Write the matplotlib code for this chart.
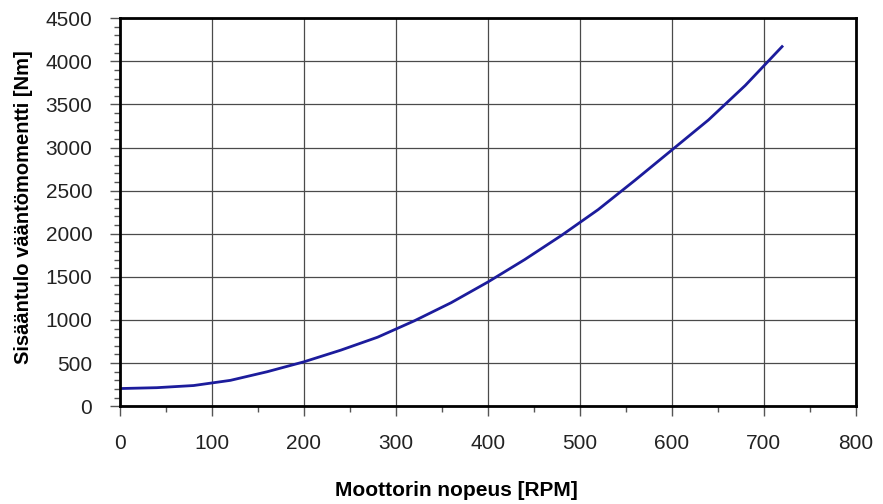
import matplotlib.pyplot as plt
from matplotlib.ticker import MultipleLocator

rpm = [0, 40, 80, 120, 160, 200, 240, 280, 320, 360, 400, 440, 480, 520, 560, 600, 640, 680, 720]
torque = [205, 215, 240, 300, 400, 515, 650, 800, 990, 1200, 1440, 1700, 1980, 2280, 2620, 2970, 3320, 3720, 4170]

plt.rcParams['font.family'] = ['Liberation Sans', 'DejaVu Sans']

fig = plt.figure(figsize=(8.83, 5.04), dpi=100)
ax = fig.add_axes([0.136, 0.194, 0.833, 0.770])

ax.plot(rpm, torque, color='#1c1c9c', linewidth=2.0)

ax.set_xlim(0, 800)
ax.set_ylim(0, 4500)
ax.xaxis.set_major_locator(MultipleLocator(100))
ax.xaxis.set_minor_locator(MultipleLocator(50))
ax.yaxis.set_major_locator(MultipleLocator(500))
ax.yaxis.set_minor_locator(MultipleLocator(100))

ax.grid(True, which='major', color='#4a4a4a', linewidth=0.9)
ax.set_axisbelow(True)
for s in ax.spines.values():
    s.set_linewidth(2.0)
    s.set_color('black')

ax.tick_params(axis='both', which='major', length=7, width=1, color='#555555',
               labelsize=15, labelcolor='#222222')
ax.tick_params(axis='both', which='minor', length=4, width=1, color='#555555')
ax.tick_params(axis='x', which='major', pad=13)
ax.tick_params(axis='y', which='major', pad=13)

ax.set_xlabel('Moottorin nopeus [RPM]', fontsize=15, fontweight='bold')
ax.set_ylabel('Sisääntulo vääntömomentti [Nm]', fontsize=14.5, fontweight='bold')
ax.xaxis.set_label_coords(0.457, -0.193)
ax.yaxis.set_label_coords(-0.118, 0.512)

plt.savefig('out.png', dpi=100)
